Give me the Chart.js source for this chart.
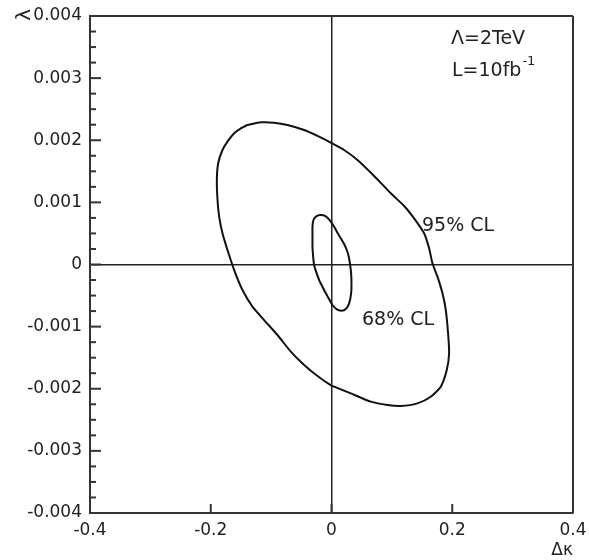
<!DOCTYPE html>
<html>
<head>
<meta charset="utf-8">
<script src="https://cdn.jsdelivr.net/npm/chart.js@4.4.1/dist/chart.umd.min.js"></script>
<style>
  body { margin: 0; background: #fff; }
  canvas { display: block; }
</style>
</head>
<body>
<canvas id="clChart" width="589" height="560"></canvas>
<script>
// Axis ranges (Delta kappa vs lambda)
const xMin = -0.4, xMax = 0.4, xStep = 0.2;
const yMin = -0.004, yMax = 0.004, yStep = 0.001;

// 95% CL contour
const outerDk = [-0.1391, -0.1171, -0.0950, -0.0729, -0.0453, -0.0232, -0.0012, 0.0209, 0.0430, 0.0706, 0.0982, 0.1203, 0.1368,
                 0.1534, 0.1617, 0.1672, 0.1755, 0.1838, 0.1893, 0.1931, 0.1948, 0.1909, 0.1810, 0.1644, 0.1424, 0.1148, 0.0927,
                 0.0651, 0.0320, -0.0012, -0.0232, -0.0453, -0.0674, -0.0895, -0.1116, -0.1309, -0.1474, -0.1612, -0.1723,
                 -0.1806, -0.1861, -0.1888, -0.1899, -0.1877, -0.1806, -0.1723, -0.1612, -0.1502, -0.1391];
const outerDl = [0.002246, 0.002289, 0.002283, 0.002246, 0.002165, 0.002069, 0.001961, 0.001843, 0.001682, 0.001425, 0.001146, 0.000942, 0.000743,
                 0.000502, 0.000260, 0.000019, -0.000196, -0.000464, -0.000733, -0.001108, -0.001430, -0.001699, -0.001967, -0.002128, -0.002235, -0.002278, -0.002262,
                 -0.002208, -0.002074, -0.001940, -0.001795, -0.001618, -0.001403, -0.001135, -0.000894, -0.000679, -0.000411, -0.000089, 0.000233,
                 0.000502, 0.000770, 0.001038, 0.001360, 0.001629, 0.001843, 0.001978, 0.002112, 0.002192, 0.002246];

// 68% CL contour
const innerDk = [-0.0205, -0.0133, -0.0067, -0.0012, 0.0044, 0.0099, 0.0154, 0.0209, 0.0253, 0.0286, 0.0309, 0.0325, 0.0331, 0.0325,
                 0.0292, 0.0237, 0.0165, 0.0088, 0.0016, -0.0039, -0.0094, -0.0150, -0.0205, -0.0255, -0.0288, -0.0304, -0.0315,
                 -0.0315, -0.0315, -0.0299, -0.0260, -0.0205];
const innerDl = [0.000797, 0.000792, 0.000754, 0.000690, 0.000609, 0.000512, 0.000421, 0.000330, 0.000233, 0.000126, -0.000008, -0.000142, -0.000303, -0.000464,
                 -0.000625, -0.000716, -0.000743, -0.000722, -0.000652, -0.000561, -0.000464, -0.000357, -0.000250, -0.000115, -0.000008, 0.000126, 0.000287,
                 0.000448, 0.000609, 0.000716, 0.000770, 0.000797];

const toPoints = (xs, ys) => xs.map((v, i) => ({ x: v, y: ys[i] }));

const tickFont = { family: 'DejaVu Sans', size: 17 };
const textFont = '19px "DejaVu Sans"';
const ink = '#222';

const isZero = v => Math.abs(v) < 1e-9;
const zeroLine = c => (c.tick && isZero(c.tick.value)) ? ink : 'rgba(0,0,0,0)';

// frame, inward ticks and the text labels
const framePlugin = {
  id: 'frame',
  afterDatasetsDraw(chart) {
    const { ctx, chartArea: a, scales: { x, y } } = chart;
    const seg = (x1, y1, x2, y2) => { ctx.beginPath(); ctx.moveTo(x1, y1); ctx.lineTo(x2, y2); ctx.stroke(); };
    ctx.save();
    ctx.strokeStyle = '#333';
    ctx.lineWidth = 2;
    seg(a.left, a.top, a.right, a.top);
    seg(a.right, a.top, a.right, a.bottom);

    x.ticks.forEach(t => {
      const px = x.getPixelForValue(t.value);
      seg(px, a.bottom, px, a.bottom - 9);
    });
    y.ticks.forEach((t, i) => {
      const py = y.getPixelForValue(t.value);
      seg(a.left, py, a.left + 11, py);
      if (i < y.ticks.length - 1) {
        const next = y.ticks[i + 1].value;
        for (let k = 1; k < 4; k++) {
          const pm = y.getPixelForValue(t.value + (next - t.value) * k / 4);
          seg(a.left, pm, a.left + 6, pm);
        }
      }
    });

    ctx.fillStyle = ink;
    ctx.font = textFont;
    ctx.textBaseline = 'middle';
    ctx.textAlign = 'left';
    ctx.fillText('Λ=2TeV', 451, 39);
    ctx.fillText('L=10fb', 452, 71);
    const w = ctx.measureText('L=10fb').width;
    ctx.font = '13px "DejaVu Sans"';
    ctx.fillText('-1', 452 + w + 1, 62);
    ctx.font = textFont;
    ctx.fillText('95% CL', 422, 226);
    ctx.fillText('68% CL', 362, 320);

    // axis titles
    ctx.font = '17px "DejaVu Sans"';
    ctx.textAlign = 'right';
    ctx.fillText('Δκ', a.right, 551);
    ctx.font = '20px "DejaVu Sans"';
    ctx.translate(25, 9);
    ctx.rotate(-Math.PI / 2);
    ctx.fillText('λ', 0, 0);
    ctx.restore();
  }
};

const contour = (label, pts) => ({
  label: label,
  data: pts,
  showLine: true,
  borderColor: '#111',
  borderWidth: 2,
  pointRadius: 0,
  tension: 0.2
});

new Chart(document.getElementById('clChart').getContext('2d'), {
  type: 'scatter',
  data: {
    datasets: [
      contour('95% CL', toPoints(outerDk, outerDl)),
      contour('68% CL', toPoints(innerDk, innerDl))
    ]
  },
  options: {
    responsive: false,
    animation: false,
    layout: { padding: { top: 16, right: 16, left: 0, bottom: 0 } },
    plugins: {
      legend: { display: false },
      tooltip: { enabled: false }
    },
    scales: {
      x: {
        type: 'linear',
        min: xMin,
        max: xMax,
        afterFit: s => { s.height = 47; s.paddingLeft = 0; s.paddingRight = 0; },
        ticks: {
          stepSize: xStep,
          color: ink,
          font: tickFont,
          padding: 7,
          maxRotation: 0,
          callback: v => isZero(v) ? '0' : v.toFixed(1)
        },
        grid: { color: zeroLine, lineWidth: 1.5, drawTicks: false },
        border: { display: true, color: '#333', width: 2 }
      },
      y: {
        type: 'linear',
        min: yMin,
        max: yMax,
        afterFit: s => { s.width = 90; s.paddingTop = 0; s.paddingBottom = 0; },
        ticks: {
          stepSize: yStep,
          color: ink,
          font: tickFont,
          padding: 8,
          callback: v => isZero(v) ? '0' : v.toFixed(3)
        },
        grid: { color: zeroLine, lineWidth: 1.5, drawTicks: false },
        border: { display: true, color: '#333', width: 2 }
      }
    }
  },
  plugins: [framePlugin]
});
</script>
</body>
</html>
